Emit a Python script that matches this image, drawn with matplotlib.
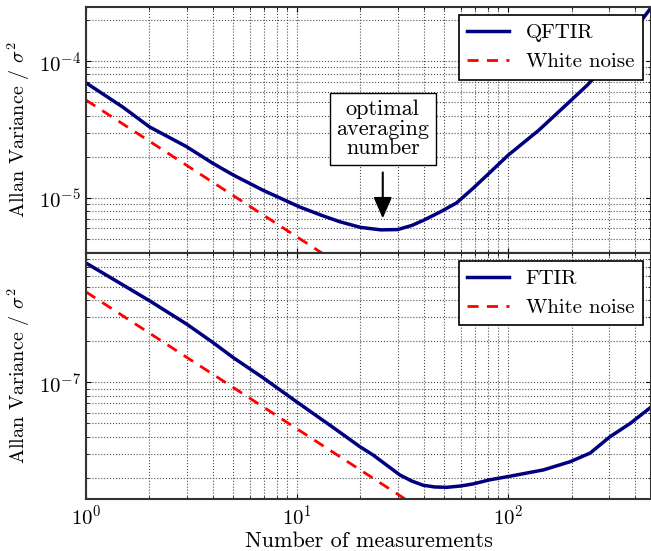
import matplotlib
matplotlib.use("Agg")
from matplotlib import pyplot as plt

plt.rcParams['font.family'] = 'serif'
plt.rcParams['font.serif'] = ['cmr10', 'DejaVu Serif']
plt.rcParams['mathtext.fontset'] = 'cm'
plt.rcParams['axes.unicode_minus'] = False
plt.rcParams['axes.formatter.use_mathtext'] = True

# QFTIR (top panel)
n_q = [1, 1.5, 2, 3, 4, 5, 6.9, 10.3, 13.3, 16, 20, 25, 30, 35, 40, 48, 57, 68, 80, 100, 140, 197,
       238, 300, 370, 437, 480]
v_q = [6.95e-5, 4.6e-5, 3.31e-5, 2.37e-5, 1.79e-5, 1.47e-5, 1.14e-5, 8.6e-6, 7.4e-6, 6.7e-6, 6.1e-6,
       5.85e-6, 5.88e-6, 6.3e-6, 6.9e-6, 7.95e-6, 9.2e-6, 1.17e-5, 1.48e-5, 2.05e-5, 3.13e-5, 5.1e-5,
       6.7e-5, 9.9e-5, 1.48e-4, 2.06e-4, 2.5e-4]
wn_n_q = [1, 14]
wn_v_q = [5.2e-5, 5.2e-5 / 14]

# FTIR (bottom panel)
n_f = [1, 2, 3, 4, 5, 6.9, 9.9, 15, 19.9, 22.9, 26, 30.8, 35, 39.6, 45, 51.3, 60, 68.3, 82, 102, 147,
       197, 245, 304, 379, 471, 500]
v_f = [7.43e-7, 3.94e-7, 2.66e-7, 1.95e-7, 1.51e-7, 1.08e-7, 7.25e-8, 4.62e-8, 3.38e-8, 2.95e-8,
       2.55e-8, 2.1e-8, 1.9e-8, 1.77e-8, 1.72e-8, 1.71e-8, 1.75e-8, 1.81e-8, 1.94e-8, 2.06e-8, 2.29e-8,
       2.63e-8, 3.04e-8, 4.0e-8, 5.0e-8, 6.5e-8, 7.0e-8]
wn_n_f = [1, 35]
wn_v_f = [4.57e-7, 4.57e-7 / 35]

fig = plt.figure(figsize=(6.51, 5.51), dpi=100)
ax1 = fig.add_axes([0.132, 0.541, 0.868, 0.446])
ax2 = fig.add_axes([0.132, 0.094, 0.868, 0.447], sharex=ax1)

for ax, n, v, wn, wv, lab in [(ax1, n_q, v_q, wn_n_q, wn_v_q, 'QFTIR'),
                              (ax2, n_f, v_f, wn_n_f, wn_v_f, 'FTIR')]:
    ax.plot(n, v, color='#00007f', lw=2.5, label=lab)
    ax.plot(wn, wv, color='#ff0000', lw=2, ls='--', dashes=(4, 3), label='White noise')
    ax.set_xscale('log')
    ax.set_yscale('log')
    ax.grid(True, which='both', ls=':', color='0.3', lw=0.8)
    ax.tick_params(which='both', direction='in', top=True, right=True, labelsize=15)
    for s in ax.spines.values():
        s.set_linewidth(1.5)
        s.set_color('0.2')
    ax.set_ylabel(r'Allan Variance / $\sigma^2$', fontsize=14.5)
    ax.yaxis.set_label_coords(-0.095, 0.5)
    ax.legend(loc='upper right', fontsize=15, fancybox=False, edgecolor='k', framealpha=1,
              borderaxespad=0.4, handlelength=2.0).get_frame().set_linewidth(1.2)

ax1.set_xlim(1, 476)
ax1.set_ylim(3.97e-6, 2.48e-4)
ax2.set_ylim(1.4e-8, 8.8e-7)
ax1.tick_params(labelbottom=False)
ax2.set_xlabel('Number of measurements', fontsize=16, labelpad=2)

ax1.annotate('optimal\naveraging\nnumber', xy=(25.5, 7.1e-6), xytext=(25.5, 3.19e-5),
             ha='center', va='center', fontsize=16, linespacing=1.0,
             bbox=dict(boxstyle='square,pad=0.3', fc='white', ec='k', lw=1),
             arrowprops=dict(arrowstyle='-|>,head_width=0.35,head_length=0.8', color='k', lw=1.5,
                             shrinkA=5, shrinkB=0))

plt.savefig('out.png', dpi=100)
